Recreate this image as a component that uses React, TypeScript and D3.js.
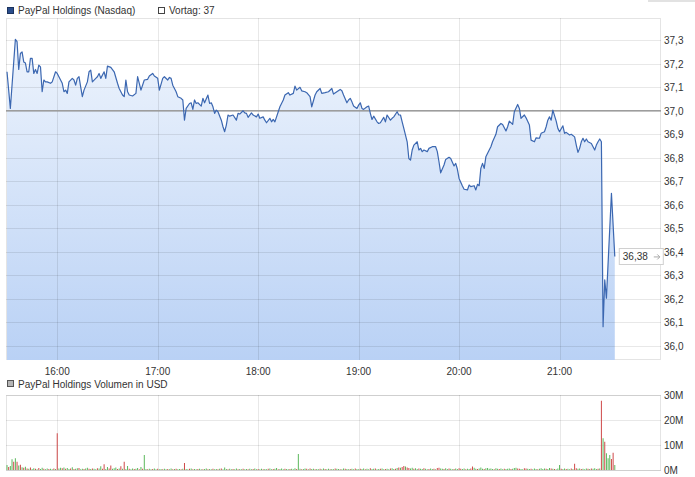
import React from 'react';
import * as d3 from 'd3';

const W = 695;
const H = 477;

// Kursverlauf: [Minute des Tages, Kurs in USD]
const prices: [number, number][] = [
  [930, 37.166], [932, 37.01], [935, 37.304], [936, 37.294], [937, 37.176], [938, 37.244], [939, 37.251],
  [940, 37.208], [941, 37.203], [942, 37.166], [943, 37.166], [944, 37.223], [945, 37.223], [946, 37.159],
  [947, 37.176], [948, 37.159], [949, 37.194], [950, 37.187], [951, 37.081], [952, 37.131], [953, 37.123],
  [954, 37.123], [956, 37.117], [957, 37.123], [959, 37.166], [960, 37.159], [961, 37.145], [963, 37.117],
  [964, 37.081], [965, 37.088], [966, 37.074], [967, 37.123], [969, 37.138], [970, 37.131], [971, 37.109],
  [972, 37.138], [973, 37.145], [974, 37.102], [975, 37.06], [976, 37.088], [978, 37.123], [979, 37.166],
  [980, 37.173], [981, 37.123], [983, 37.138], [984, 37.145], [985, 37.159], [986, 37.138], [988, 37.166],
  [989, 37.138], [990, 37.19], [992, 37.185], [994, 37.166], [996, 37.117], [997, 37.095], [999, 37.067],
  [1000, 37.06], [1001, 37.131], [1002, 37.081], [1003, 37.067], [1005, 37.063], [1007, 37.074], [1008, 37.145],
  [1009, 37.117], [1010, 37.088], [1012, 37.131], [1014, 37.134], [1015, 37.148], [1017, 37.159], [1018, 37.148],
  [1020, 37.138], [1021, 37.088], [1023, 37.138], [1024, 37.145], [1026, 37.131], [1027, 37.142], [1028, 37.138],
  [1029, 37.109], [1031, 37.081], [1032, 37.06], [1034, 37.053], [1035, 37.046], [1036, 36.96], [1037, 37.01],
  [1039, 37.031], [1040, 37.034], [1041, 37.006], [1042, 37.046], [1043, 37.031], [1044, 37.034], [1046, 37.02],
  [1047, 37.053], [1048, 37.034], [1050, 37.067], [1051, 37.031], [1052, 37.034], [1053, 37.017], [1054, 36.989],
  [1055, 37.003], [1056, 36.996], [1058, 36.96], [1059, 36.932], [1060, 36.911], [1061, 36.939], [1062, 36.982],
  [1063, 36.977], [1065, 36.982], [1067, 36.96], [1068, 36.989], [1069, 36.986], [1071, 37.0], [1072, 36.991],
  [1073, 36.989], [1074, 36.972], [1076, 36.991], [1077, 36.982], [1079, 36.974], [1080, 36.986], [1081, 36.968],
  [1083, 36.974], [1084, 36.96], [1085, 36.949], [1087, 36.968], [1088, 36.953], [1089, 36.963], [1090, 36.953],
  [1092, 36.996], [1093, 37.017], [1095, 37.046], [1096, 37.067], [1098, 37.077], [1099, 37.067], [1101, 37.074],
  [1102, 37.105], [1103, 37.088], [1105, 37.1], [1106, 37.085], [1108, 37.081], [1109, 37.077], [1111, 37.06],
  [1112, 37.017], [1114, 37.067], [1115, 37.081], [1117, 37.095], [1118, 37.074], [1120, 37.077], [1122, 37.081],
  [1124, 37.095], [1125, 37.071], [1127, 37.081], [1129, 37.091], [1130, 37.085], [1131, 37.067], [1133, 37.034],
  [1134, 37.046], [1135, 37.053], [1136, 37.038], [1137, 37.02], [1139, 37.01], [1140, 37.024], [1141, 37.034],
  [1142, 37.01], [1143, 37.006], [1145, 37.017], [1146, 37.02], [1147, 36.989], [1148, 36.963], [1149, 36.977],
  [1151, 36.953], [1152, 36.946], [1153, 36.949], [1155, 36.972], [1156, 36.953], [1157, 36.982], [1159, 36.96],
  [1160, 36.968], [1161, 36.974], [1163, 36.996], [1164, 36.982], [1165, 36.982], [1166, 36.953], [1167, 36.925],
  [1169, 36.868], [1170, 36.797], [1171, 36.79], [1172, 36.833], [1173, 36.854], [1175, 36.868], [1176, 36.833],
  [1177, 36.84], [1178, 36.826], [1179, 36.833], [1181, 36.826], [1182, 36.84], [1184, 36.847], [1186, 36.847],
  [1187, 36.826], [1188, 36.783], [1189, 36.736], [1191, 36.769], [1192, 36.793], [1194, 36.802], [1195, 36.797],
  [1197, 36.765], [1198, 36.776], [1199, 36.751], [1200, 36.712], [1202, 36.68], [1203, 36.666], [1205, 36.663],
  [1206, 36.684], [1207, 36.677], [1209, 36.681], [1210, 36.663], [1211, 36.687], [1212, 36.681], [1213, 36.755],
  [1214, 36.776], [1215, 36.755], [1216, 36.804], [1218, 36.833], [1219, 36.847], [1220, 36.868], [1222, 36.9],
  [1223, 36.932], [1225, 36.946], [1226, 36.942], [1228, 36.914], [1229, 36.932], [1230, 36.956], [1232, 36.942],
  [1233, 36.996], [1235, 37.027], [1236, 37.01], [1237, 36.968], [1239, 36.982], [1240, 36.97], [1242, 36.939],
  [1243, 36.875], [1245, 36.868], [1246, 36.885], [1248, 36.883], [1249, 36.904], [1251, 36.911], [1252, 36.932],
  [1253, 36.96], [1254, 36.974], [1255, 36.96], [1256, 37.003], [1258, 36.956], [1259, 36.925], [1260, 36.911],
  [1262, 36.936], [1263, 36.904], [1264, 36.908], [1266, 36.897], [1267, 36.9], [1269, 36.889], [1270, 36.854],
  [1271, 36.823], [1272, 36.84], [1273, 36.868], [1274, 36.883], [1275, 36.868], [1276, 36.88], [1277, 36.868],
  [1279, 36.861], [1280, 36.847], [1281, 36.833], [1282, 36.854], [1283, 36.868], [1284, 36.88], [1285, 36.868],
  [1286, 36.081], [1287, 36.28], [1288, 36.202], [1291, 36.649], [1293, 36.38],
];

// Volumen in Mio. USD je Minute ab 15:30 (positiv = steigend/grün, negativ = fallend/rot)
const volumes: number[] = [
  2.0, -1.2, 1.6, 4.3, -3.3, 4.7, -3.3, 1.8, -2.1, 1.1, -0.9, 1.3, -0.6, 0.5, -1.0, 0.4, 0.7, -0.5, 0.3, -0.8, 0.4, 0.9, -0.5, 0.3, 0.6, -0.4, 0.5, 0.3, -0.6, 0.4,
  -14.7, 0.6, 0.9, -0.7, 1.0, -0.5, 0.8, 0.4, -0.6, 1.1, -0.4, 0.5, 0.7, -0.8, 0.3, 0.5, -0.4, 0.6, 0.9, -0.5, 0.4, -0.6, 0.5, 0.3, -0.7, 0.6, 1.5, -0.5, -2.3, 0.4,
  1.2, -0.6, -1.8, 0.5, 0.7, 1.0, -0.4, 0.6, -1.5, 0.5, -3.3, 0.4, 1.6, -0.5, 0.3, 0.6, -0.4, 0.5, 0.8, -0.3, 1.2, -0.5, 6.0, 0.4, -0.3, 0.5, 0.3, -0.4, 0.6, 0.3,
  -0.5, 0.3, 0.4, -0.3, 0.5, 0.3, -0.4, 0.3, 0.6, -0.3, 0.4, -0.5, 0.3, 0.4, -0.3, 0.5, -2.8, 0.4, 0.3, -0.5, 0.6, -0.3, 0.4, 0.3, -0.4, 0.5, 0.3, -0.3, 0.4, 0.6,
  -0.3, 0.4, 0.3, -0.5, 0.3, 0.4, -0.3, 0.5, -0.6, 0.3, 1.0, 0.4, -0.3, 0.5, 0.3, -0.4, 0.3, 0.6, -0.3, 0.4, 0.3, -0.5, 0.3, 0.4, -0.3, 0.5, 0.3, -0.4, 0.6, 0.3,
  -0.4, 0.3, 0.5, -0.3, 0.4, 0.3, -0.5, 0.6, 0.3, -0.4, 0.5, 0.8, -0.3, 0.4, 0.6, 0.3, -0.5, 0.4, 0.3, -0.4, 0.5, 0.3, 0.7, -0.4, 6.4, 0.5, -0.3, 0.4, 0.6, -0.5,
  0.3, -0.6, 0.4, 0.5, -0.3, 0.4, 0.3, -0.5, 0.3, 0.6, -0.4, 0.3, 0.5, -0.3, 0.4, 0.3, -0.6, 0.5, 0.4, -0.3, 0.3, 0.6, -0.5, 0.4, 0.3, -0.4, 0.5, 0.3, -0.6, 0.4,
  0.3, -0.5, 0.4, 0.6, -0.3, 0.5, 0.3, -0.7, 0.4, 0.5, -0.6, 0.3, 0.4, -0.5, 0.6, 0.3, -0.4, 0.5, 0.3, -0.6, 0.7, 0.4, -0.5, 0.8, -1.0, 0.9, -1.2, -1.6, 1.4, -1.0,
  -0.8, 0.6, 0.9, -0.5, 0.7, 0.4, -0.6, 0.5, 0.4, -0.7, 0.5, 0.3, -0.4, 0.6, 0.4, -0.5, 0.3, -0.8, -0.9, 0.6, 0.5, -0.4, 0.7, 0.4, -0.6, 0.5, 0.3, -0.4, 0.6, 0.4,
  -0.7, -0.5, 0.4, 0.6, -0.3, 0.5, 0.4, -0.6, -1.4, 0.9, 0.5, -0.4, 0.6, 1.0, 0.5, -0.4, 0.7, 0.8, 0.5, 0.6, 0.4, -0.3, 0.7, 0.5, -0.4, 0.6, 0.3, -0.5, 0.4, 0.5,
  0.6, -0.4, 0.5, 0.8, 0.9, -0.6, -0.5, 0.4, 0.3, -0.7, -0.6, 0.5, 0.4, -0.5, 0.3, 0.6, 0.4, -0.3, 0.5, 0.7, 0.4, 0.6, -0.5, 0.4, 0.8, -0.6, 0.5, -0.4, 0.3, 0.6,
  2.0, -0.5, 0.4, 0.6, -0.4, 0.5, 0.3, -0.6, 0.4, -2.5, -0.7, 0.5, 0.6, -0.4, 0.5, 0.3, 0.6, -0.5, 0.4, -0.6, 0.5, 0.7, 0.4, -0.5, 0.6,
  -27.7, 12.7, -11.3, 6.7, 4.7, 6.0, -4.4, -6.9, 2.0,
];
const volumeStart = 930;

const hourTicks = [960, 1020, 1080, 1140, 1200, 1260];
const priceTicks = [36.0, 36.1, 36.2, 36.3, 36.4, 36.5, 36.6, 36.7, 36.8, 36.9, 37.0, 37.1, 37.2, 37.3];
const volumeTicks = [0, 10, 20, 30];
const prevClose = 37;
const lastPrice = 36.38;
const seriesName = 'PayPal Holdings (Nasdaq)';
const prevLabel = 'Vortag: 37';
const volumeName = 'PayPal Holdings Volumen in USD';

const de = d3.formatLocale({ decimal: ',', thousands: '.', grouping: [3], currency: ['', ' €'] });
const fmt1 = de.format('.1f');
const fmt2 = de.format('.2f');

const FONT = '"Liberation Sans", Arial, sans-serif';

export default function App() {
  const left = 6, right = 661;
  const top = 18, bottom = 360;
  const vTop = 395, vBottom = 470;

  const x = d3.scaleLinear().domain([930, 1320]).range([7, 660]);
  const y = d3.scaleLinear().domain([36.0, 37.3]).range([345.7, 40.3]);
  const yv = d3.scaleLinear().domain([0, 30]).range([vBottom, vTop]);

  const line = d3.line<[number, number]>().x(d => x(d[0])).y(d => y(d[1]));
  const area = d3.area<[number, number]>().x(d => x(d[0])).y0(bottom).y1(d => y(d[1]));

  const last = prices[prices.length - 1];
  const ly = y(lastPrice);
  const grid = { stroke: '#000', strokeOpacity: 0.09, strokeWidth: 1 };

  return (
    <svg width={W} height={H} style={{ position: 'absolute', left: 0, top: 0, background: '#fff' }}
      fontFamily={FONT} fontSize={10} fill="#333">
      <defs>
        <linearGradient id="fill" gradientUnits="userSpaceOnUse" x1={0} y1={top} x2={0} y2={bottom}>
          <stop offset="0" stopColor="#f1f6fd" />
          <stop offset="1" stopColor="#b9d1f5" />
        </linearGradient>
        <clipPath id="plot"><rect x={left} y={top} width={right - left} height={bottom - top} /></clipPath>
      </defs>

      <rect x={648} y={0} width={47} height={2} fill="#e2e2e2" />

      {/* Legende oben */}
      <rect x={7.5} y={7.5} width={6} height={6} fill="#2a4d8c" stroke="#1b335e" />
      <text x={18} y={14}>{seriesName}</text>
      <rect x={158.5} y={7.5} width={6} height={6} fill="#fff" stroke="#444" />
      <text x={169} y={14}>{prevLabel}</text>

      {/* Kurschart */}
      <rect x={left + 0.5} y={top + 0.5} width={right - left - 1} height={bottom - top - 1} fill="#fff" stroke="#e4e4e4" />
      <g clipPath="url(#plot)">
        <path d={area(prices) ?? ''} fill="url(#fill)" />
        {priceTicks.map(t => (
          <line key={t} x1={left} x2={right} y1={Math.round(y(t)) + 0.5} y2={Math.round(y(t)) + 0.5} {...grid} />
        ))}
        {hourTicks.map(t => (
          <line key={t} x1={Math.round(x(t)) + 0.5} x2={Math.round(x(t)) + 0.5} y1={top} y2={bottom} {...grid} />
        ))}
        <line x1={left} x2={right} y1={y(prevClose)} y2={y(prevClose)} stroke="#9d9d9d" strokeWidth={1.6} />
        <path d={line(prices) ?? ''} fill="none" stroke="#3b67b1" strokeWidth={1.2} strokeLinejoin="round" />
      </g>

      {priceTicks.map(t => (
        <text key={t} x={664} y={y(t) + 4}>{fmt1(t)}</text>
      ))}
      {hourTicks.map(t => (
        <text key={t} x={x(t)} y={375} textAnchor="middle">{`${Math.floor(t / 60)}:00`}</text>
      ))}

      {/* Schlusskurs-Marke */}
      <g>
        <rect x={x(last[0]) + 4.5} y={Math.round(ly) - 7.5} width={44} height={16} fill="#fff" stroke="#d0d0d0" />
        <text x={x(last[0]) + 8} y={ly + 4}>{fmt2(lastPrice)}</text>
        <path d={`M${x(last[0]) + 39},${ly + 0.5}h6m-2.5,-2.5l2.5,2.5l-2.5,2.5`} fill="none" stroke="#aaa" strokeWidth={1} />
      </g>

      {/* Volumen */}
      <rect x={7.5} y={380.5} width={6} height={6} fill="#b5b5b5" stroke="#555" />
      <text x={18} y={388}>{volumeName}</text>
      <rect x={left + 0.5} y={vTop + 0.5} width={right - left - 1} height={vBottom - vTop} fill="#fff" stroke="#e4e4e4" />
      {volumeTicks.map(t => (
        <line key={t} x1={left} x2={right} y1={Math.round(yv(t)) + 0.5} y2={Math.round(yv(t)) + 0.5} {...grid} />
      ))}
      {hourTicks.map(t => (
        <line key={t} x1={Math.round(x(t)) + 0.5} x2={Math.round(x(t)) + 0.5} y1={vTop} y2={vBottom} {...grid} />
      ))}
      {volumes.map((v, i) => {
        const bx = x(volumeStart + i);
        return (
          <rect key={i} x={bx - 0.5} y={yv(Math.abs(v))} width={1} height={vBottom - yv(Math.abs(v))}
            fill={v < 0 ? '#cf4a4a' : '#5cb85c'} />
        );
      })}
      {volumeTicks.map(t => (
        <text key={t} x={664} y={yv(t) + 4}>{`${t}M`}</text>
      ))}
    </svg>
  );
}
